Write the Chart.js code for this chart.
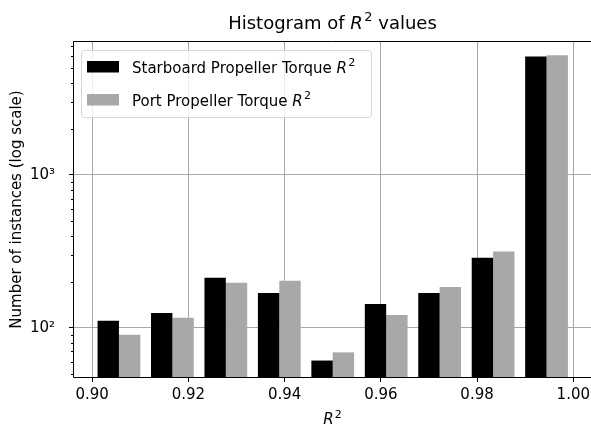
<!DOCTYPE html>
<html>
<head>
<meta charset="utf-8">
<script src="https://cdn.jsdelivr.net/npm/chart.js@4.4.1/dist/chart.umd.min.js"></script>
<style>
  html, body { margin: 0; padding: 0; background: #fff; }
  #wrap { width: 591px; height: 426px; }
</style>
</head>
<body>
<div id="wrap"><canvas id="chart" width="591" height="426"></canvas></div>
<script>
// histogram data
const binCenters = [0.90556, 0.91667, 0.92778, 0.93889, 0.95, 0.96111, 0.97222, 0.98333, 0.99444];
const starboardCounts = [111, 125, 212, 169, 61, 143, 169, 287, 5940];
const portCounts = [90, 116, 197, 203, 69, 121, 185, 315, 6050];
const seriesLabels = ['Starboard Propeller Torque R²', 'Port Propeller Torque R²'];
const seriesColors = ['#000000', '#a8a8a8'];
const xTicks = [0.90, 0.92, 0.94, 0.96, 0.98, 1.00];
const yTicks = [100, 1000];
const yTickLabels = ['10²', '10³'];
const yMinorTicks = [50, 60, 70, 80, 90, 200, 300, 400, 500, 600, 700, 800, 900, 2000, 3000, 4000, 5000, 6000, 7000];

const FONT = "'DejaVu Sans', sans-serif";

// draws text where "R²" is rendered like matplotlib mathtext (italic R, raised 2)
function drawRich(ctx, text, x, y, size, align) {
  const parts = text.split('R²');
  const segs = [];
  parts.forEach((p, i) => {
    if (p) segs.push({ t: p, font: `${size}px ${FONT}`, dy: 0, gap: 0 });
    if (i < parts.length - 1) {
      segs.push({ t: 'R', font: `italic ${size}px ${FONT}`, dy: 0, gap: size * 0.08 });
      segs.push({ t: '2', font: `${Math.round(size * 0.7)}px ${FONT}`, dy: -size * 0.42, gap: 0 });
    }
  });
  let total = 0;
  segs.forEach(s => { ctx.font = s.font; s.w = ctx.measureText(s.t).width; total += s.w + s.gap; });
  let cx = align === 'center' ? x - total / 2 : x;
  ctx.save();
  ctx.fillStyle = '#000';
  ctx.textBaseline = 'alphabetic';
  ctx.textAlign = 'left';
  segs.forEach(s => {
    ctx.font = s.font;
    ctx.fillText(s.t, cx, y + s.dy);
    cx += s.w + s.gap;
  });
  ctx.restore();
}

const decorPlugin = {
  id: 'decor',
  afterDatasetsDraw(chart) {
    const { ctx, chartArea: a } = chart;
    const ys = chart.scales.y;
    ctx.save();
    // minor ticks on the log axis
    ctx.strokeStyle = '#000';
    ctx.lineWidth = 1;
    ctx.beginPath();
    yMinorTicks.forEach(v => {
      if (v < ys.min || v > ys.max) return;
      const py = Math.round(ys.getPixelForValue(v)) + 0.5;
      ctx.moveTo(a.left - 3, py);
      ctx.lineTo(a.left, py);
    });
    ctx.stroke();
    ctx.restore();
  },
  afterDraw(chart) {
    const { ctx, chartArea: a } = chart;
    ctx.save();
    // spines
    ctx.strokeStyle = '#000';
    ctx.lineWidth = 1;
    ctx.beginPath();
    ctx.moveTo(a.left - 0.5, a.bottom + 0.5);
    ctx.lineTo(a.left - 0.5, a.top - 0.5);
    ctx.lineTo(a.right, a.top - 0.5);
    ctx.moveTo(a.left - 0.5, a.bottom + 0.5);
    ctx.lineTo(a.right, a.bottom + 0.5);
    ctx.stroke();

    // title and x label
    const mid = (a.left + a.right) / 2;
    drawRich(ctx, 'Histogram of R² values', mid, 29, 18, 'center');
    drawRich(ctx, 'R²', mid, 424, 15, 'center');

    // legend box
    const bx = 81.5, by = 50.5, bw = 290, bh = 67;
    ctx.beginPath();
    ctx.roundRect(bx, by, bw, bh, 3);
    ctx.fillStyle = 'rgba(255,255,255,0.8)';
    ctx.fill();
    ctx.strokeStyle = '#d6d6d6';
    ctx.stroke();
    chart.data.datasets.forEach((ds, i) => {
      const top = 61 + i * 33;
      ctx.fillStyle = ds.backgroundColor;
      ctx.fillRect(87, top, 32, 11.5);
      drawRich(ctx, ds.label, 132, top + 11.5, 15, 'left');
    });
    ctx.restore();
  }
};

new Chart(document.getElementById('chart'), {
  type: 'bar',
  data: {
    datasets: [
      {
        label: seriesLabels[0],
        data: binCenters.map((x, i) => ({ x, y: starboardCounts[i] })),
        backgroundColor: seriesColors[0]
      },
      {
        label: seriesLabels[1],
        data: binCenters.map((x, i) => ({ x, y: portCounts[i] })),
        backgroundColor: seriesColors[1]
      }
    ]
  },
  options: {
    responsive: false,
    animation: false,
    devicePixelRatio: 1,
    categoryPercentage: 0.8,
    barPercentage: 1.0,
    layout: { padding: { top: 42, left: 0, right: 0, bottom: 0 } },
    plugins: {
      legend: { display: false },
      title: { display: false },
      tooltip: { enabled: false }
    },
    scales: {
      x: {
        type: 'linear',
        offset: false,
        min: 0.89622,
        max: 1.00368,
        z: 1,
        border: { display: false },
        grid: { offset: false, color: '#a8a8a8', lineWidth: 1, tickColor: '#000', tickLength: 5, tickWidth: 1 },
        afterBuildTicks: s => { s.ticks = xTicks.map(v => ({ value: v })); },
        afterFit: s => { s.height = 49; s.paddingLeft = 0; s.paddingRight = 0; },
        ticks: {
          padding: 4,
          color: '#000',
          font: { family: FONT, size: 15 },
          maxRotation: 0,
          callback: v => Number(v).toFixed(2)
        }
      },
      y: {
        type: 'logarithmic',
        min: 47.6,
        max: 7400,
        z: 1,
        border: { display: false },
        grid: { color: '#a8a8a8', lineWidth: 1, tickColor: '#000', tickLength: 5, tickWidth: 1 },
        afterBuildTicks: s => { s.ticks = yTicks.map(v => ({ value: v })); },
        afterFit: s => { s.width = 74; s.paddingTop = 0; s.paddingBottom = 0; },
        ticks: {
          padding: 14,
          color: '#000',
          font: { family: FONT, size: 15 },
          callback: v => yTickLabels[yTicks.indexOf(v)] || ''
        },
        title: {
          display: true,
          text: 'Number of instances (log scale)',
          color: '#000',
          font: { family: FONT, size: 15 },
          padding: { top: 8, bottom: 0 }
        }
      }
    }
  },
  plugins: [decorPlugin]
});
</script>
</body>
</html>
